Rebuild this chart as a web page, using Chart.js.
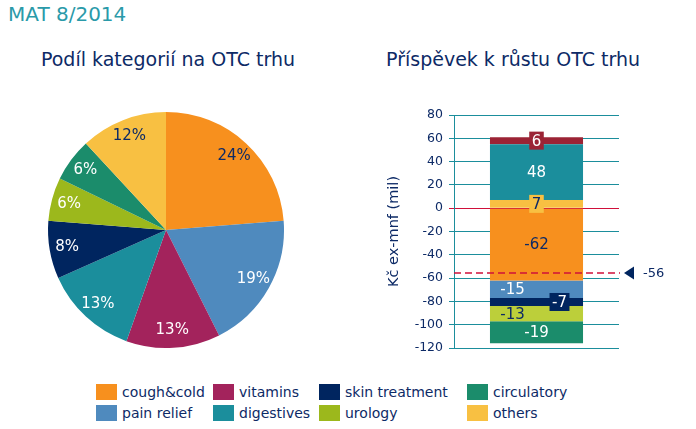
<!DOCTYPE html>
<html>
<head>
<meta charset="utf-8">
<script src="https://cdn.jsdelivr.net/npm/chart.js@4"></script>
<style>
  body { margin: 0; width: 696px; height: 429px; background: #fff; position: relative; overflow: hidden; font-family: 'DejaVu Sans', Verdana, sans-serif; }
  .abs { position: absolute; }
  #mainTitle { left: 8px; top: 2px; font-size: 20px; color: #2a9aa9; }
  .subTitle { top: 48px; font-size: 19px; color: #0d2a66; white-space: nowrap; transform: translateX(-50%); }
  #legend .item { position: absolute; font-size: 14px; color: #0d2a66; white-space: nowrap; }
  #legend .sw { display: inline-block; width: 21px; height: 16px; vertical-align: -3px; margin-right: 5px; }
</style>
</head>
<body>
<div id="mainTitle" class="abs">MAT 8/2014</div>
<div class="abs subTitle" style="left:168px">Podíl kategorií na OTC trhu</div>
<div class="abs subTitle" style="left:513px">Příspěvek k růstu OTC trhu</div>
<canvas id="pieChart" class="abs" width="240" height="240" style="left:46px;top:110px"></canvas>
<canvas id="barChart" class="abs" width="316" height="254" style="left:380px;top:104px"></canvas>
<div id="legend"></div>
<script>
// pie: share of categories on OTC market (%)
const categories = ['cough&cold', 'pain relief', 'vitamins', 'digestives', 'skin treatment', 'urology', 'circulatory', 'others'];
const shares = [24, 19, 13, 13, 8, 6, 6, 12];
const colors = ['#f7901e', '#4f8abe', '#a3235c', '#1b8e9c', '#00255f', '#9cb81c', '#1b8c6b', '#f8c042'];
const pieLabelColors = ['#0d2a66', '#fff', '#fff', '#fff', '#fff', '#fff', '#fff', '#0d2a66'];

// bar: contribution to OTC market growth (Kč ex-mnf, mil)
const barCategories = ['others', 'digestives', 'vitamins', 'cough&cold', 'pain relief', 'skin treatment', 'urology', 'circulatory'];
const barValues = [7, 48, 6, -62, -15, -7, -13, -19];
const netChange = -56;
const barColors = ['#f8c042', '#1b8e9c', '#9b2335', '#f7901e', '#4f8abe', '#00255f', '#bccf3a', '#1b8c6b'];
const barLabelColors = ['#0d2a66', '#fff', '#fff', '#0d2a66', '#fff', '#fff', '#0d2a66', '#fff'];
const barLabelBoxed = [true, false, true, false, false, true, false, false];
const barLabelShift = [0, 0, 0, 0, -24, 23, -24, 0];

const navy = '#0d2a66';
const teal = '#1b8e9c';
const red = '#d0103a';
const font = "'DejaVu Sans', Verdana, sans-serif";

// legend, column by column
const legendX = [96, 213, 319, 467];
const legendY = [384, 405];
const legend = document.getElementById('legend');
categories.forEach(function(c, i) {
    const d = document.createElement('div');
    d.className = 'item';
    d.style.left = legendX[Math.floor(i / 2)] + 'px';
    d.style.top = legendY[i % 2] + 'px';
    d.innerHTML = '<span class="sw" style="background:' + colors[i] + '"></span>' + c;
    legend.appendChild(d);
});

const pieLabels = {
    id: 'pieLabels',
    afterDatasetsDraw(chart) {
        const ctx = chart.ctx;
        const meta = chart.getDatasetMeta(0);
        ctx.save();
        ctx.font = '15px ' + font;
        ctx.textAlign = 'center';
        ctx.textBaseline = 'middle';
        meta.data.forEach(function(arc, i) {
            const p = arc.getProps(['x', 'y', 'startAngle', 'endAngle', 'outerRadius']);
            const a = (p.startAngle + p.endAngle) / 2;
            const r = p.outerRadius * 0.85;
            ctx.fillStyle = pieLabelColors[i];
            ctx.fillText(shares[i] + '%', p.x + Math.cos(a) * r, p.y + Math.sin(a) * r);
        });
        ctx.restore();
    }
};

new Chart(document.getElementById('pieChart').getContext('2d'), {
    type: 'pie',
    data: {
        labels: categories,
        datasets: [{
            data: shares,
            backgroundColor: colors,
            borderWidth: 0,
            hoverOffset: 0,
            radius: 118
        }]
    },
    options: {
        responsive: false,
        animation: false,
        plugins: { legend: { display: false }, tooltip: { enabled: false } }
    },
    plugins: [pieLabels]
});

const barLabels = {
    id: 'barLabels',
    afterDatasetsDraw(chart) {
        const ctx = chart.ctx;
        const y = chart.scales.y;
        const area = chart.chartArea;
        ctx.save();
        ctx.font = '15px ' + font;
        ctx.textAlign = 'center';
        ctx.textBaseline = 'middle';
        barValues.forEach(function(v, i) {
            const bar = chart.getDatasetMeta(i).data[0];
            const cx = bar.x + barLabelShift[i];
            const cy = (bar.y + bar.base) / 2;
            const txt = String(v);
            if (barLabelBoxed[i]) {
                const w = ctx.measureText(txt).width + 5;
                ctx.fillStyle = barColors[i];
                ctx.fillRect(cx - w / 2, cy - 9, w, 18);
            }
            ctx.fillStyle = barLabelColors[i];
            ctx.fillText(txt, cx, cy + 1);
        });
        // net change marker
        const ny = Math.round(y.getPixelForValue(netChange));
        ctx.strokeStyle = red;
        ctx.lineWidth = 1.5;
        ctx.setLineDash([7, 4]);
        ctx.beginPath();
        ctx.moveTo(area.left, ny);
        ctx.lineTo(area.right + 1, ny);
        ctx.stroke();
        ctx.setLineDash([]);
        ctx.fillStyle = '#00255f';
        ctx.beginPath();
        ctx.moveTo(area.right + 5, ny);
        ctx.lineTo(area.right + 15, ny - 6.5);
        ctx.lineTo(area.right + 15, ny + 6.5);
        ctx.closePath();
        ctx.fill();
        ctx.fillStyle = navy;
        ctx.font = '13px ' + font;
        ctx.textAlign = 'left';
        ctx.fillText(String(netChange), area.right + 24, ny + 1);
        ctx.restore();
    }
};

new Chart(document.getElementById('barChart').getContext('2d'), {
    type: 'bar',
    data: {
        labels: [''],
        datasets: barCategories.map(function(c, i) {
            return {
                label: c,
                data: [barValues[i]],
                backgroundColor: barColors[i],
                borderWidth: 0,
                categoryPercentage: 1,
                barPercentage: 0.564
            };
        })
    },
    options: {
        responsive: false,
        animation: false,
        layout: { padding: { top: 11, bottom: 10, right: 77, left: 0 } },
        plugins: { legend: { display: false }, tooltip: { enabled: false } },
        scales: {
            x: { stacked: true, display: false },
            y: {
                stacked: true,
                min: -120,
                max: 80,
                afterFit: function(scale) {
                    scale.width = 74;
                    scale.paddingTop = 0;
                    scale.paddingBottom = 0;
                },
                ticks: { stepSize: 20, color: navy, font: { family: font, size: 12.5 }, padding: 6 },
                grid: {
                    color: function(c) { return c.tick && c.tick.value === 0 ? red : teal; },
                    tickLength: 5
                },
                border: { color: teal },
                title: {
                    display: true,
                    text: 'Kč ex-mnf (mil)',
                    color: navy,
                    font: { family: font, size: 14.5 },
                    padding: { top: 6, bottom: 0 }
                }
            }
        }
    },
    plugins: [barLabels]
});
</script>
</body>
</html>
